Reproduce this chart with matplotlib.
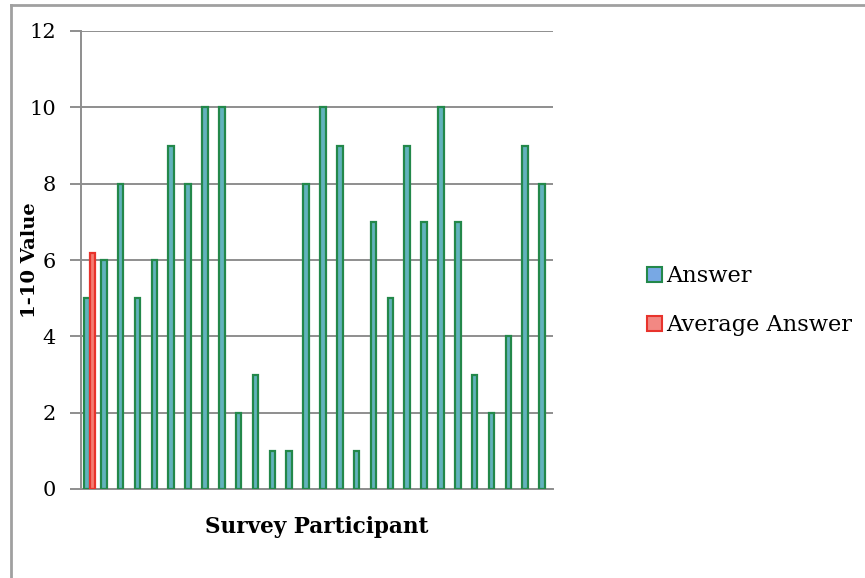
import matplotlib
matplotlib.use("Agg")
import matplotlib.pyplot as plt
from matplotlib.patches import Patch
from matplotlib.lines import Line2D
import numpy as np

# Survey answers, one per participant
answers = [5, 6, 8, 5, 6, 9, 8, 10, 10, 2, 3, 1, 1, 8,
           10, 9, 1, 7, 5, 9, 7, 10, 7, 3, 2, 4, 9, 8]
# Average answer, shown only in the first category
average_answer = [6.18]
y_ticks = [0, 2, 4, 6, 8, 10, 12]

series_names = ["Answer", "Average Answer"]

plt.rcParams["font.family"] = ["DejaVu Serif"]

fig = plt.figure(figsize=(8.65, 5.78), dpi=100)
ax = fig.add_axes([81 / 865, 1 - 489 / 578, (553 - 81) / 865, (489 - 31) / 578])

n = len(answers)
x = np.arange(n)
avg_full = average_answer + [np.nan] * (n - len(average_answer))

w = 0.33
ans_edge = "#23884a"
ans_face = "#62b2bd"
avg_edge = "#e8332c"
avg_face = "#f47c72"

ax.bar(x - 0.15, answers, width=w, color=ans_face, edgecolor=ans_edge,
       linewidth=1.6, zorder=3)
ax.bar(x + 0.17, avg_full, width=w, color=avg_face, edgecolor=avg_edge,
       linewidth=1.6, zorder=3)

ax.set_xlim(-0.5, n - 0.5)
ax.set_ylim(0, 12)
ax.set_yticks(y_ticks)
ax.set_yticklabels([str(t) for t in y_ticks], fontsize=15)
ax.set_xticks([])
ax.yaxis.grid(True, color="#8e8e8e", linewidth=1.4, zorder=0)
ax.set_axisbelow(True)
for s in ["top", "right"]:
    ax.spines[s].set_visible(False)
for s in ["left", "bottom"]:
    ax.spines[s].set_color("#8e8e8e")
    ax.spines[s].set_linewidth(1.4)
ax.tick_params(axis="y", length=8, width=1.4, color="#8e8e8e", pad=10)

fig.text(30 / 865, 1 - 260 / 578, "1-10 Value", rotation=90, fontsize=14,
         fontweight="bold", ha="center", va="center")
fig.text(317 / 865, 1 - 527 / 578, "Survey Participant", fontsize=15.5,
         fontweight="bold", ha="center", va="center")

handles = [
    Patch(facecolor="#78a8e4", edgecolor=ans_edge, linewidth=1.5),
    Patch(facecolor="#f28883", edgecolor=avg_edge, linewidth=1.5),
]
fig.legend(handles, series_names, loc="upper left",
           bbox_to_anchor=(627 / 865, 1 - 245 / 578), frameon=False,
           fontsize=16.2, handlelength=0.65, handleheight=0.65,
           handletextpad=0.2, labelspacing=1.2)

# outer chart border (left and top edges visible)
fig.add_artist(Line2D([11 / 865, 11 / 865], [0, 1 - 5 / 578],
                      transform=fig.transFigure, color="#a0a0a0", linewidth=2))
fig.add_artist(Line2D([11 / 865, 1], [1 - 5 / 578, 1 - 5 / 578],
                      transform=fig.transFigure, color="#a0a0a0", linewidth=2))

fig.savefig("out.png", dpi=100)
